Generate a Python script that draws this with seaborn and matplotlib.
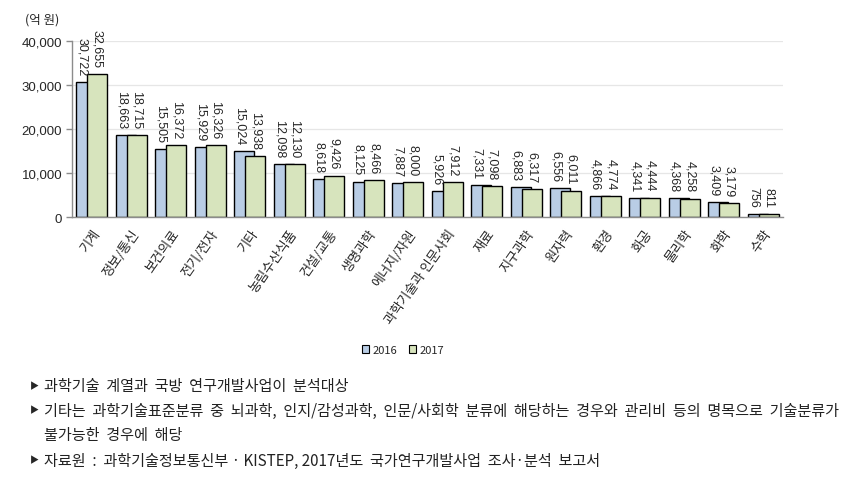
import numpy as np
import pandas as pd
import matplotlib as mpl
mpl.use('Agg')
import matplotlib.pyplot as plt
from matplotlib.patches import Patch
import seaborn as sns

sns.set_style('white')
plt.rcParams['font.family'] = ['Noto Sans CJK KR', 'DejaVu Sans']

fields = ['기계', '정보/통신', '보건의료', '전기/전자', '기타', '농림수산식품',
          '건설/교통', '생명과학', '에너지/자원', '과학기술과 인문사회', '재료',
          '지구과학', '원자력', '환경', '화공', '물리학', '화학', '수학']
v2016 = [30722, 18663, 15505, 15929, 15024, 12098, 8618, 8125, 7887, 5926,
         7331, 6883, 6556, 4866, 4341, 4368, 3409, 756]
v2017 = [32655, 18715, 16372, 16326, 13938, 12130, 9426, 8466, 8000, 7912,
         7098, 6317, 6011, 4774, 4444, 4258, 3179, 811]
years = ['2016', '2017']
colors = {'2016': '#B9CDE5', '2017': '#D7E4BD'}
notes = [
    '과학기술  계열과  국방  연구개발사업이  분석대상',
    '기타는  과학기술표준분류  중  뇌과학,  인지/감성과학,  인문/사회학  분류에  해당하는  경우와  관리비  등의  명목으로  기술분류가',
    '불가능한  경우에  해당',
    '자료원  :  과학기술정보통신부 · KISTEP, 2017년도  국가연구개발사업  조사·분석  보고서',
]
bullets = [True, True, False, True]

df = pd.DataFrame({
    'field': fields * 2,
    'year': ['2016'] * len(fields) + ['2017'] * len(fields),
    'value': v2016 + v2017,
})

fig = plt.figure(figsize=(8.58, 4.89), dpi=100)
ax = fig.add_axes([0.0839, 0.5536, 0.8287, 0.3599])

sns.barplot(data=df, x='field', y='value', hue='year', order=fields,
            hue_order=years, palette=colors, width=0.556, gap=-0.82,
            edgecolor='black', linewidth=1.0, saturation=1, ax=ax,
            legend=False, errorbar=None)

num_font = ['Liberation Sans', 'DejaVu Sans']

ax.set_xlim(-0.5, len(fields) - 0.5)
ax.set_ylim(0, 40000)
ax.set_yticks(np.arange(0, 40001, 10000))
ax.set_yticklabels([f'{int(t):,}' for t in ax.get_yticks()], fontsize=9.5,
                   family=num_font)
ax.yaxis.grid(True, color='#E6E6E6', linewidth=0.9)
ax.set_axisbelow(True)
ax.set_xlabel('')
ax.set_ylabel('')
for s in ['top', 'right']:
    ax.spines[s].set_visible(False)
for s in ['left', 'bottom']:
    ax.spines[s].set_color('#8C8C8C')
    ax.spines[s].set_linewidth(1.0)

ax.set_xticks(range(len(fields)))
ax.set_xticklabels(fields, rotation=55, ha='right', rotation_mode='anchor',
                   fontsize=9.5)
ax.set_xticks(np.arange(-0.5, len(fields), 1), minor=True)
ax.tick_params(axis='x', which='major', length=0, pad=7)
ax.tick_params(axis='x', which='minor', length=4, color='#8C8C8C', width=1)
ax.tick_params(axis='y', length=4, color='#8C8C8C', width=1, pad=3, left=True)

# value labels
bars = sorted([p for p in ax.patches if p.get_height() > 0], key=lambda p: p.get_x())
b16 = bars[0::2]
b17 = bars[1::2]
for p16, p17, a, b in zip(b16, b17, v2016, v2017):
    x16 = (p16.get_x() + p17.get_x()) / 2
    x17 = p17.get_x() + p17.get_width() / 2
    ax.annotate(f'{a:,}', (x16, a), xytext=(0, 5), textcoords='offset points',
                rotation=270, ha='center', va='bottom', fontsize=9, family=num_font)
    ax.annotate(f'{b:,}', (x17, b), xytext=(0, 5), textcoords='offset points',
                rotation=270, ha='center', va='bottom', fontsize=9, family=num_font)

fig.text(25 / 858, 1 - 20 / 489, '(억 원)', fontsize=9, va='center', ha='left')

handles = [Patch(facecolor=colors[y], edgecolor='black', linewidth=0.8, label=y)
           for y in years]
fig.legend(handles=handles, loc='center', bbox_to_anchor=(403 / 858, 1 - 351 / 489),
           ncol=2, frameon=False, fontsize=8, handlelength=0.7, handleheight=0.7,
           handletextpad=0.3, columnspacing=1.0)

ys = [387, 411, 436, 461]
for txt, y, bl in zip(notes, ys, bullets):
    if bl:
        fig.text(30 / 858, 1 - y / 489, '▶', fontsize=6.5, va='center', ha='left')
    fig.text(44 / 858, 1 - y / 489, txt, fontsize=10.9,
             va='center', ha='left', color='#222222')

fig.savefig('out.png', dpi=100)
